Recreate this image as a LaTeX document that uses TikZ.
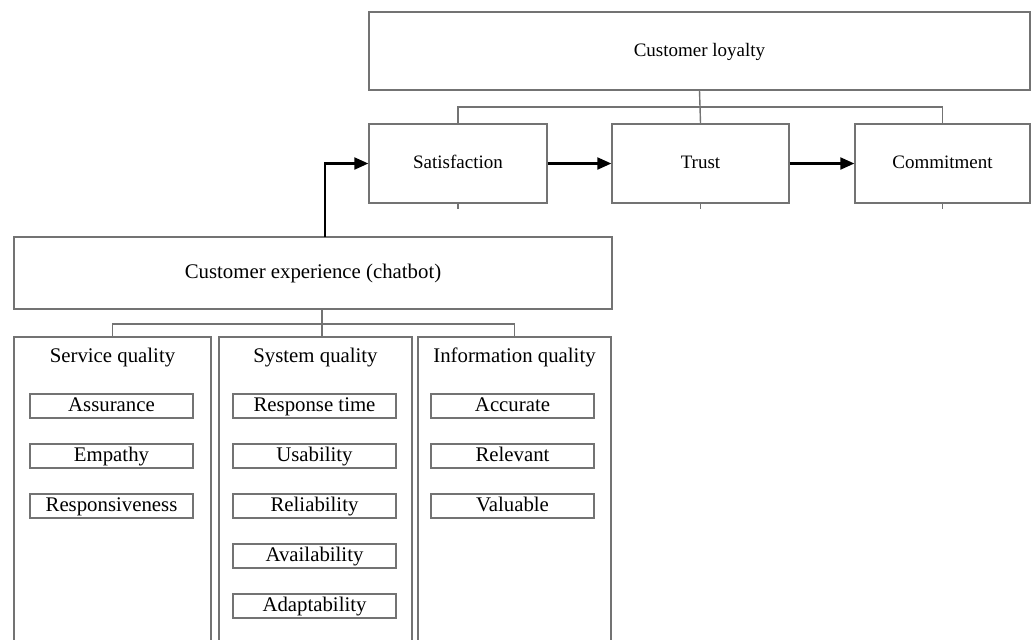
\documentclass[tikz,border=0pt]{standalone}
\usepackage{fontspec}
\setmainfont{Liberation Serif}
\usetikzlibrary{arrows.meta}
\begin{document}
\begin{tikzpicture}[x=0.5pt,y=-0.5pt,
    every node/.style={font=\fontsize{10.4}{12}\selectfont,inner sep=0pt,text height=1.6ex,text depth=.45ex},
    box/.style={draw=black!55,line width=0.7pt},
    top/.style={box,font=\fontsize{9.5}{11}\selectfont},
    item/.style={box,minimum width=81.5pt,minimum height=12pt},
    link/.style={draw=black!55,line width=0.7pt},
    arr/.style={line width=1.1pt,-{Triangle[length=7pt,width=6pt]}}]

\def\px{0.5pt}
        \useasboundingbox (0,0) rectangle (1036,639);
        % loyalty side
        \node[top,minimum width=661*\px,minimum height=78*\px] (loyal) at (699.5,51) {Customer loyalty};
        \node[top,minimum width=178*\px,minimum height=79*\px] (sat) at (458,163.5) {Satisfaction};
        \node[top,minimum width=177*\px,minimum height=79*\px] (trust) at (700.5,163.5) {Trust};
        \node[top,minimum width=175*\px,minimum height=79*\px] (commit) at (942.5,163.5) {Commitment};
        \coordinate (lb) at (697,107);
        \draw[link] (loyal.south) -- (trust.north);
        \draw[link] (sat.north) |- (lb) -| (commit.north);
        \draw[link] (sat.south) -- ++(0,5);
        \draw[link] (trust.south) -- ++(0,5);
        \draw[link] (commit.south) -- ++(0,5);
        \draw[arr] (sat) -- (trust);
        \draw[arr] (trust) -- (commit);
        % experience side
        \node[box,minimum width=598*\px,minimum height=72*\px] (exp) at (313,273) {Customer experience (chatbot)};
        \coordinate (expout) at (325,237);
        \draw[arr] (expout) |- (sat.west);
        \node[box,minimum width=197*\px,minimum height=323*\px] (serv) at (112.5,498.5) {};
        \node[box,minimum width=193*\px,minimum height=323*\px] (sys) at (315.5,498.5) {};
        \node[box,minimum width=193*\px,minimum height=323*\px] (info) at (514.5,498.5) {};
        \coordinate (eb) at (322,324);
        \draw[link] (exp.south -| eb) -- (sys.north -| eb);
        \draw[link] (serv.north) |- (eb) -| (info.north);
        \node (servt) at (112.5,357) {Service quality};
        \node (syst) at (315.5,357) {System quality};
        \node (infot) at (514.5,357) {Information quality};
        \node[item] (assur) at (111.5,406) {Assurance};
        \node[item] (empat) at (111.5,456) {Empathy};
        \node[item] (respo) at (111.5,506) {Responsiveness};
        \node[item] (rtime) at (314.5,406) {Response time};
        \node[item] (usabl) at (314.5,456) {Usability};
        \node[item] (relia) at (314.5,506) {Reliability};
        \node[item] (avail) at (314.5,556) {Availability};
        \node[item] (adapt) at (314.5,606) {Adaptability};
        \node[item] (accur) at (512.5,406) {Accurate};
        \node[item] (relev) at (512.5,456) {Relevant};
        \node[item] (valua) at (512.5,506) {Valuable};
\end{tikzpicture}
\end{document}
